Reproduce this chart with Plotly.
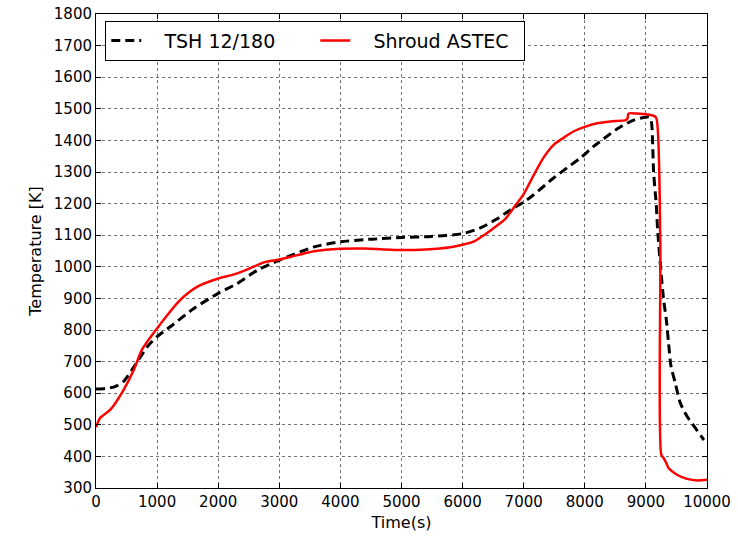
import plotly.graph_objects as go

# Measured shroud temperature (TSH 12/180)
tsh_time = [0, 150, 300, 450, 640, 840, 1000, 1220, 1600, 2000, 2310, 2640, 3000,
            3570, 4000, 4390, 4660, 5000, 5480, 6000, 6290, 6560, 6780, 7006, 7162,
            7490, 7708, 7926, 8144, 8363, 8560, 8810, 9044, 9080, 9100, 9126, 9170,
            9192, 9240, 9290, 9334, 9371, 9411, 9481, 9563, 9673, 9808, 9907, 9950]
tsh_temp = [613, 615, 620, 637, 689, 747, 779, 811, 868, 916, 947, 989, 1021,
            1063, 1079, 1086, 1089, 1093, 1096, 1105, 1123, 1151, 1180, 1205, 1228,
            1281, 1313, 1344, 1381, 1413, 1440, 1465, 1474, 1468, 1440, 1300, 1195,
            1117, 1000, 896, 833, 759, 685, 632, 569, 527, 490, 463, 452]

# ASTEC shroud temperature
astec_time = [0, 70, 235, 450, 620, 750, 1000, 1380, 1660, 2000, 2260, 2480, 2750,
              3000, 3300, 3570, 4000, 4390, 4700, 5000, 5400, 5800, 6000, 6180, 6400,
              6560, 6700, 6840, 7000, 7160, 7330, 7490, 7650, 7820, 8000, 8200, 8420,
              8674, 8700, 8717, 8854, 9126, 9170, 9235, 9252, 9290, 9334, 9371, 9508,
              9673, 9836, 10000]
astec_temp = [492, 522, 548, 610, 674, 737, 805, 895, 937, 963, 976, 992, 1014,
              1023, 1037, 1049, 1057, 1058, 1055, 1053, 1055, 1062, 1070, 1080, 1107,
              1130, 1152, 1188, 1230, 1289, 1347, 1386, 1408, 1429, 1443, 1454, 1460,
              1464, 1470, 1485, 1485, 1478, 1471, 1086, 405, 395, 379, 363, 342,
              329, 324, 326]

FONT = "DejaVu Sans"
PAD = "\u00a0" * 3  # gap between legend symbol and label

fig = go.Figure()
fig.add_trace(go.Scatter(
    x=tsh_time, y=tsh_temp, mode="lines", name=PAD + "TSH 12/180",
    line=dict(color="black", width=3, dash="9px,5px", shape="spline", smoothing=0.7),
))
fig.add_trace(go.Scatter(
    x=astec_time, y=astec_temp, mode="lines", name=PAD + "Shroud ASTEC",
    line=dict(color="#ff0000", width=2.5, shape="spline", smoothing=0.7),
))

axis_common = dict(
    showline=True, linecolor="black", linewidth=1, mirror="ticks",
    ticks="inside", ticklen=5, tickwidth=1, tickcolor="black",
    showgrid=True, gridcolor="rgba(0,0,0,0.55)", gridwidth=1, griddash="dot",
    zeroline=False, automargin=False,
    tickfont=dict(family=FONT, size=15, color="black"),
)

fig.update_layout(
    width=738, height=536,
    margin=dict(l=96, r=31, t=14, b=48, pad=0),
    paper_bgcolor="white", plot_bgcolor="white",
    font=dict(family=FONT, color="black"),
    xaxis=dict(range=[0, 10000], dtick=1000, tick0=0, tickformat="d",
               title=dict(text="Time(s)", font=dict(family=FONT, size=16), standoff=6),
               **axis_common),
    yaxis=dict(range=[300, 1800], dtick=100, tick0=300, tickformat="d",
               title=dict(text="Temperature [K]", font=dict(family=FONT, size=16), standoff=8),
               **axis_common),
    legend=dict(
        orientation="h", x=0.0152, y=0.986, xanchor="left", yanchor="top",
        bgcolor="white", bordercolor="black", borderwidth=1,
        font=dict(family=FONT, size=19, color="black"),
        entrywidth=164, entrywidthmode="pixels",
    ),
    showlegend=True,
)

fig.write_html("out.html")
